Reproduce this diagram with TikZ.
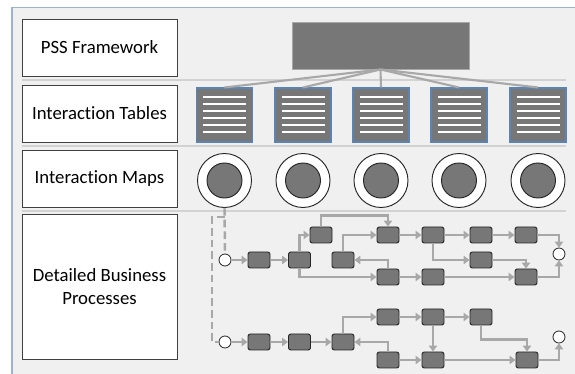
\documentclass[tikz,border=0pt]{standalone}
\usepackage{fontspec}
\setmainfont{Carlito}[Ligatures=NoCommon]
\usetikzlibrary{arrows.meta,backgrounds}

\definecolor{panel}{HTML}{F0F0F0}
\definecolor{frameblue}{HTML}{9DB3CC}
\definecolor{dgrey}{HTML}{777777}
\definecolor{lgrey}{HTML}{A8A8A8}
\definecolor{sepgrey}{HTML}{D2D2D2}
\definecolor{tblue}{HTML}{5B84B4}

\begin{document}
\begin{tikzpicture}[x=0.03cm,y=-0.03cm,
    lvlbox/.style={draw=black!75,fill=white,line width=0.7pt,minimum width=4.65cm,minimum height=1.71cm,align=center,font=\fontsize{16}{19}\selectfont},
    tbl/.style={draw=tblue,fill=dgrey,line width=0.9pt,minimum width=1.68cm,minimum height=1.62cm,inner sep=0pt},
    ring/.style={circle,draw=black!85,fill=white,line width=0.8pt,minimum size=1.62cm,inner sep=0pt},
    core/.style={circle,draw=black!85,fill=dgrey,line width=0.8pt,minimum size=1.05cm,inner sep=0pt},
    proc/.style={draw=black!85,fill=dgrey,rounded corners=2pt,line width=0.8pt,minimum width=0.66cm,minimum height=0.48cm,inner sep=0pt},
    endpt/.style={circle,draw=black!85,fill=white,line width=0.7pt,minimum size=0.36cm,inner sep=0pt},
    link/.style={draw=lgrey,line width=2.1pt},
    flow/.style={link,-{Triangle[length=5pt,width=7pt]}},
    dflow/.style={link,dash pattern=on 6.5pt off 3.5pt}]

    % Bounding box and panel
    \useasboundingbox (0,0) rectangle (575,374);
    \fill[white] (0,0) rectangle (575,374);
    \draw[frameblue,fill=panel,line width=1pt] (576,8) -- (12,8) -- (12,376);
    \fill[panel] (12.5,8.5) rectangle (576,376);

    % Separator lines
    \foreach \y in {80,146,211}
        \draw[sepgrey,line width=1.2pt] (22,\y) -- (566,\y);

    % Level labels
    \node[lvlbox] (lpss) at (99.5,47.5) {PSS Framework};
    \node[lvlbox] (ltab) at (99.5,113.5) {Interaction Tables};
    \node[lvlbox] (lmap) at (99.5,178.5) {Interaction Maps};
    \node[lvlbox,minimum height=4.35cm] (lbp) at (99.5,286.5) {Detailed Business\\Processes};

    % PSS framework block
    \node[draw=lgrey,fill=dgrey,line width=0.8pt,minimum width=5.31cm,minimum height=1.41cm] (pss) at (380.5,45.5) {};

    % Interaction tables and maps
    \foreach \i/\x in {1/224.5,2/303,3/381,4/459,5/538} {
        \node[tbl] (t\i) at (\x,115) {};
        \foreach \y in {97,104,...,132}
            \draw[white,line width=1.8pt] (\x-21.5,\y) -- (\x+21.5,\y);
        \node[ring] (m\i) at (\x,180.5) {};
        \node[core] at (\x,180.5) {};
        \draw[link,line width=1.8pt] (pss.south) -- (t\i.north);
    }
    \begin{scope}[on background layer]
        \draw[link,line width=1.8pt] (t3.south) -- ++(0,12);
        \draw[link,line width=1.8pt] (m1.north) -- (m5.north);
    \end{scope}

    % Upper business process
    \node[endpt] (s1) at (225,260) {};
    \node[proc] (a1) at (259,260) {};
    \node[proc] (a2) at (299.5,260) {};
    \node[proc] (a3) at (321,235) {};
    \node[proc] (a4) at (343,260) {};
    \node[proc] (a5) at (388,235) {};
    \node[proc] (a6) at (388,277) {};
    \node[proc] (a7) at (433,235) {};
    \node[proc] (a8) at (433,277) {};
    \node[proc] (a9) at (481,235) {};
    \node[proc] (a10) at (481,260) {};
    \node[proc] (a11) at (526,235) {};
    \node[proc] (a12) at (526,277) {};
    \node[endpt] (e1) at (559,254) {};

    \draw[flow] (s1) -- (a1);
    \draw[flow] (a1) -- (a2);
    \draw[flow] (a2.north) |- (a3.west);
    \draw[flow] (a2.south) |- (a6.west);
    \draw[flow] (a3.north) -- ++(0,-11) -| (a5.north);
    \draw[flow] (a4.north) |- (a5.west);
    \draw[flow] (a6.north) |- (a4.east);
    \draw[flow] (a5) -- (a7);
    \draw[flow] (a6) -- (a8);
    \draw[flow] (a7) -- (a9);
    \draw[flow] (a7.south) |- (a10.west);
    \draw[flow] (a9) -- (a11);
    \draw[flow] (a8) -- (a12);
    \draw[flow] (a10.east) -| (a12.north);
    \draw[flow] (a11.east) -| (e1.north);
    \draw[flow] (a12.east) -| (e1.south);

    % Lower business process
    \node[endpt] (s2) at (225,342) {};
    \node[proc] (b1) at (259,342) {};
    \node[proc] (b2) at (299.5,342) {};
    \node[proc] (b3) at (343,342) {};
    \node[proc] (b4) at (388,317) {};
    \node[proc] (b5) at (388,360) {};
    \node[proc] (b6) at (433,317) {};
    \node[proc] (b7) at (433,360) {};
    \node[proc] (b8) at (481,317) {};
    \node[proc] (b9) at (527,360) {};
    \node[endpt] (e2) at (559,337) {};

    \draw[flow] (s2) -- (b1);
    \draw[flow] (b1) -- (b2);
    \draw[flow] (b2) -- (b3);
    \draw[flow] (b3.north) |- (b4.west);
    \draw[flow] (b5.north) |- (b3.east);
    \draw[flow] (b4) -- (b6);
    \draw[flow] (b5) -- (b7);
    \draw[flow] (b6) -- (b7);
    \draw[flow] (b6) -- (b8);
    \draw[flow] (b8.south) -- ++(0,14) -| (b9.north);
    \draw[flow] (b7) -- (b9);
    \draw[flow] (b9.east) -| (e2.south);

    % Dashed links from the first map
    \coordinate (dsplit) at (224.5,217);
    \draw[dflow] (m1.south) -- (s1.north);
    \draw[dflow] (dsplit) -- ++(-12.5,0) |- (s2.west);

\end{tikzpicture}
\end{document}
